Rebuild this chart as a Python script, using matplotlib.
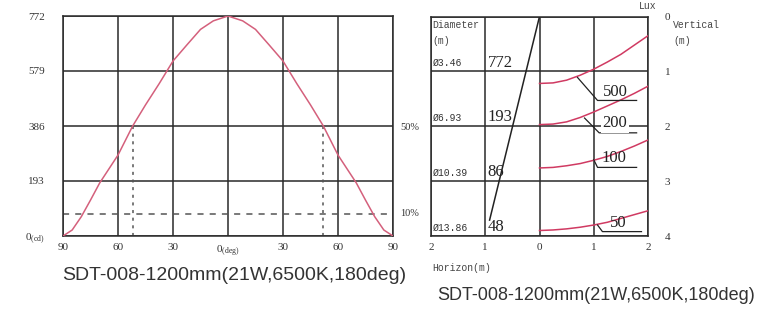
import matplotlib
matplotlib.use("Agg")
import matplotlib.pyplot as plt

plt.rcParams["mathtext.fontset"] = "custom"
plt.rcParams["mathtext.rm"] = "Liberation Serif"

# left chart: intensity distribution
angles = [-90, -85, -80, -75, -70, -60, -52, -45, -37.5, -30, -22.5, -15, -8, 0,
          8, 15, 22.5, 30, 37.5, 45, 52, 60, 70, 75, 80, 85, 90]
cd = [0, 21, 68, 126, 186, 284, 386, 460, 535, 614, 670, 725, 755, 772,
      755, 725, 670, 614, 535, 460, 386, 284, 186, 126, 68, 21, 0]
y_ticks = [0, 193, 386, 579, 772]
y_labels = [r"0$_{\mathrm{(cd)}}$", "193", "386", "579", "772"]
x_ticks = [-90, -60, -30, 0, 30, 60, 90]
x_labels = ["90", "60", "30", r"0$_{\mathrm{(deg)}}$", "30", "60", "90"]
half_angle = 52
peak = 772

# right chart: illuminance / cone
lux_x = [0, 0.25, 0.5, 0.75, 1, 1.25, 1.5, 1.75, 2]
lux500 = [1.22, 1.21, 1.16, 1.07, 0.96, 0.83, 0.69, 0.52, 0.35]
lux200 = [1.97, 1.96, 1.92, 1.84, 1.74, 1.63, 1.52, 1.40, 1.27]
lux100 = [2.76, 2.75, 2.72, 2.68, 2.62, 2.55, 2.46, 2.36, 2.25]
lux50 = [3.90, 3.89, 3.87, 3.84, 3.80, 3.75, 3.68, 3.61, 3.54]
lux_names = ["500", "200", "100", "50"]
distances = [1, 2, 3, 4]
diameters = ["Ø3.46", "Ø6.93", "Ø10.39", "Ø13.86"]
centre_lux = ["772", "193", "86", "48"]
title = "SDT-008-1200mm(21W,6500K,180deg)"

W, H = 765, 311
fig = plt.figure(figsize=(W / 100, H / 100), dpi=100)


def box(x0, y0, x1, y1):
    return [x0 / W, 1 - y1 / H, (x1 - x0) / W, (y1 - y0) / H]


grid_c = "#2a2a2a"
serif = "Liberation Serif"
mono = "Liberation Mono"

# ---- left
ax = fig.add_axes(box(63, 16, 393, 236))
ax.set_xlim(-90, 90)
ax.set_ylim(0, peak)
ax.set_xticks(x_ticks)
ax.set_xticklabels(x_labels, family=serif, fontsize=8, color="#333")
ax.set_yticks(y_ticks)
ax.set_yticklabels(y_labels, family=serif, fontsize=8, color="#333")
ax.tick_params(length=0, pad=5)
ax.tick_params(axis="y", pad=13)
ax.grid(True, color=grid_c, lw=1.1)
for s in ax.spines.values():
    s.set_color(grid_c)
    s.set_linewidth(1.1)
ax.plot(angles, cd, color="#d4607c", lw=1.1, zorder=3)
for a in (-half_angle, half_angle):
    ax.plot([a, a], [0, peak / 2], color="#555", lw=1.1, ls=(0, (2, 3)))
ax.axhline(peak * 0.1, color="#555", lw=1.1, ls=(0, (4, 4)))
fig.text(400 / W, 1 - 127 / H, "50%", family=serif, fontsize=7.5, va="center", color="#333")
fig.text(400 / W, 1 - 213 / H, "10%", family=serif, fontsize=7.5, va="center", color="#333")
fig.text(234 / W, 1 - 275 / H, title, family="Liberation Sans", fontsize=14,
         ha="center", va="center", color="#333")

# ---- right
bx = fig.add_axes(box(431, 16.5, 648, 236))
bx.set_xlim(-2, 2)
bx.set_ylim(4, 0)
bx.set_xticks([-2, -1, 0, 1, 2])
bx.set_xticklabels(["2", "1", "0", "1", "2"], family=serif, fontsize=8, color="#333")
bx.set_yticks([0, 1, 2, 3, 4])
bx.set_yticklabels(["0", "1", "2", "3", "4"], family=serif, fontsize=8, color="#333")
bx.yaxis.tick_right()
bx.tick_params(length=0, pad=5)
bx.tick_params(axis="y", pad=12)
bx.grid(True, color=grid_c, lw=1.1)
for s in bx.spines.values():
    s.set_color(grid_c)
    s.set_linewidth(1.1)

bx.plot([0, -0.92], [0, 3.71], color="#222", lw=1.1)
for ys in (lux500, lux200, lux100, lux50):
    bx.plot(lux_x, ys, color="#d03a62", lw=1.1, zorder=3)

# label leaders: (curve point, underline start, underline end, label x, label y)
leaders = [
    ((0.70, 1.11), (1.07, 1.53), 1.79, 1.39, 1.38),
    ((0.83, 1.85), (1.10, 2.12), 1.79, 1.39, 1.94),
    ((1.00, 2.61), (1.07, 2.75), 1.79, 1.38, 2.57),
    ((1.07, 3.80), (1.16, 3.92), 1.88, 1.45, 3.76),
]
for name, (p0, p1, xe, tx, ty) in zip(lux_names, leaders):
    bx.plot([p0[0], p1[0], xe], [p0[1], p1[1], p1[1]], color="#222", lw=0.9, zorder=4)
    bbox = dict(fc="white", ec="none", pad=1.5) if name == "200" else None
    bx.text(tx, ty, name, family=serif, fontsize=12, ha="center", va="center",
            color="#222", bbox=bbox, zorder=5)

bx.text(-1.97, 0.15, "Diameter", family=mono, fontsize=7, va="center", color="#444")
bx.text(-1.97, 0.44, "(m)", family=mono, fontsize=7, va="center", color="#444")
for d, dia, lx in zip(distances, diameters, centre_lux):
    bx.text(-1.97, d - 0.15, dia, family=mono, fontsize=7, va="center", color="#333")
    bx.text(-0.96, d - 0.16, lx, family=serif, fontsize=12, va="center", color="#222")

fig.text(648 / W, 1 - 6 / H, "Lux", family=mono, fontsize=7, ha="center", va="center", color="#444")
fig.text(673 / W, 1 - 25 / H, "Vertical", family=mono, fontsize=7, va="center", color="#444")
fig.text(673 / W, 1 - 41 / H, "(m)", family=mono, fontsize=7, va="center", color="#444")
fig.text(432 / W, 1 - 268 / H, "Horizon(m)", family=mono, fontsize=7, va="center", color="#444")
fig.text(596 / W, 1 - 296 / H, title, family="Liberation Sans",
         fontsize=13, ha="center", va="center", color="#333")

fig.savefig("out.png", dpi=100)
